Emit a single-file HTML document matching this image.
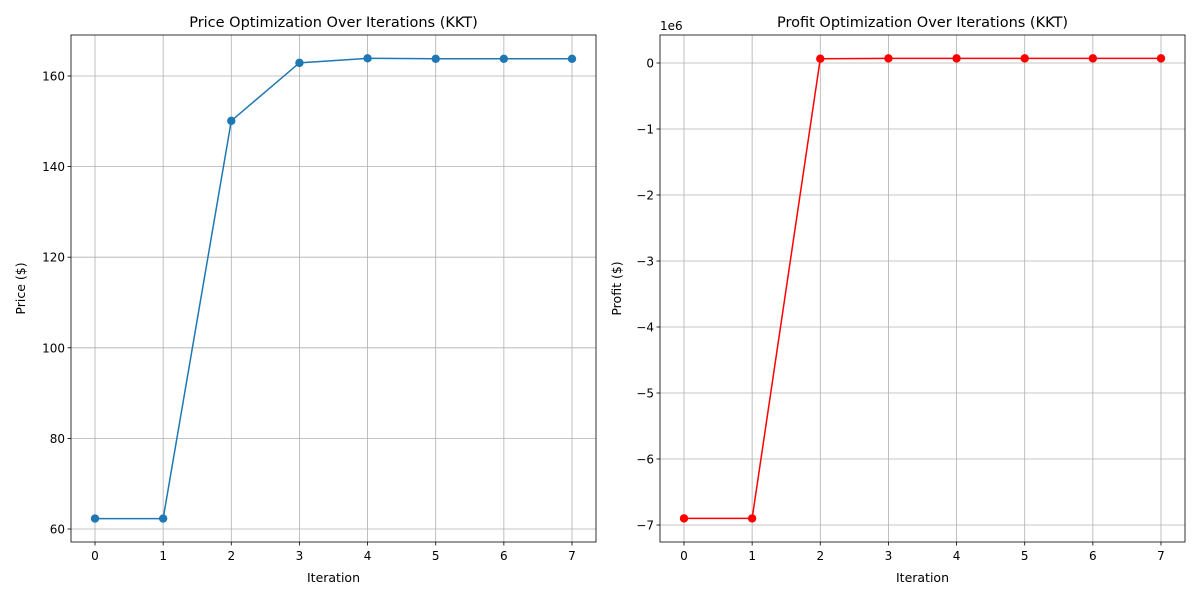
<!DOCTYPE html>
<html><head><meta charset="utf-8"><style>
body{margin:0;background:#fff;font-family:"Liberation Sans","DejaVu Sans",sans-serif;}
svg text{font-family:"DejaVu Sans","Liberation Sans",sans-serif;}
</style></head><body>
<svg id="c" width="1200" height="600" xmlns="http://www.w3.org/2000/svg"></svg>
<script>
const iterations=[0,1,2,3,4,5,6,7];
const priceValues=[62.3,62.3,150.1,162.9,163.9,163.8,163.8,163.8];
const profitValues=[-6.9,-6.9,0.065,0.07,0.07,0.07,0.07,0.07];
const priceTicks=[60,80,100,120,140,160];
const profitTicks=[0,-1,-2,-3,-4,-5,-6,-7];
const xTicks=[0,1,2,3,4,5,6,7];
const NS='http://www.w3.org/2000/svg';
const svg=document.getElementById('c');
function mk(tag,attrs,parent){const e=document.createElementNS(NS,tag);for(const k in attrs)e.setAttribute(k,attrs[k]);(parent||svg).appendChild(e);return e;}
function panel(o){
 const g=mk('g',{});
 
 
 const L=o.x0,R=o.x1,T=35,B=542;
 const xs=v=>o.xa+(v-0)*(o.xb-o.xa)/7;
 const ys=v=>o.ya+(v-o.yv0)*(o.yb-o.ya)/(o.yv1-o.yv0);
 xTicks.forEach(t=>{const x=xs(t);
  const l=mk('line',{x1:x,x2:x,y1:T,y2:B,stroke:'#b0b0b0','stroke-width':0.8},g);
  
  mk('line',{x1:x,x2:x,y1:B,y2:B+3.5,stroke:'#000','stroke-width':0.8},g);
  const tx=mk('text',{x:x,y:B+18,'font-size':12,'text-anchor':'middle'},g);tx.textContent=t;
  });
 o.yticks.forEach(t=>{const y=ys(t);
  const l=mk('line',{x1:L,x2:R,y1:y,y2:y,stroke:'#b0b0b0','stroke-width':0.8},g);
  
  mk('line',{x1:L-3.5,x2:L,y1:y,y2:y,stroke:'#000','stroke-width':0.8},g);
  const tx=mk('text',{x:L-6,y:y+4.5,'font-size':12,'text-anchor':'end'},g);tx.textContent=t<0?'\u2212'+(-t):t;
  });
 const pts=o.vals.map((v,i)=>xs(iterations[i])+','+ys(v)).join(' ');
 const pl=mk('polyline',{points:pts,fill:'none',stroke:o.color,'stroke-width':1.5},g);
 
 o.vals.forEach((v,i)=>{const c=mk('circle',{cx:xs(iterations[i]),cy:ys(v),r:4.2,fill:o.color},g);
  });
 const fr=mk('rect',{x:L,y:T,width:R-L,height:B-T,fill:'none',stroke:'#000','stroke-width':0.8},g);
 
 const ti=mk('text',{x:(L+R)/2,y:27,'font-size':14.5,'text-anchor':'middle'},g);ti.textContent=o.title;
 
 const xl=mk('text',{x:(L+R)/2,y:582,'font-size':12.5,'text-anchor':'middle'},g);xl.textContent='Iteration';
 
 const yl=mk('text',{x:0,y:0,'font-size':12.5,'text-anchor':'middle',transform:`translate(${o.ylx},${(T+B)/2}) rotate(-90)`},g);yl.textContent=o.ylabel;
 
 if(o.offset){const of=mk('text',{x:L,y:30,'font-size':12},g);of.textContent=o.offset;
  }
}
panel({name:'price-panel',x0:71,x1:596,xa:95,xb:572,ya:529,yb:76,yv0:60,yv1:160,yticks:priceTicks,vals:priceValues,color:'#1f77b4',title:'Price Optimization Over Iterations (KKT)',ylabel:'Price ($)',ylx:25});
panel({name:'profit-panel',x0:660,x1:1185,xa:684,xb:1161,ya:63,yb:525,yv0:0,yv1:-7,yticks:profitTicks,vals:profitValues,color:'#ff0000',title:'Profit Optimization Over Iterations (KKT)',ylabel:'Profit ($)',ylx:621,offset:'1e6'});
</script>
</body></html>
